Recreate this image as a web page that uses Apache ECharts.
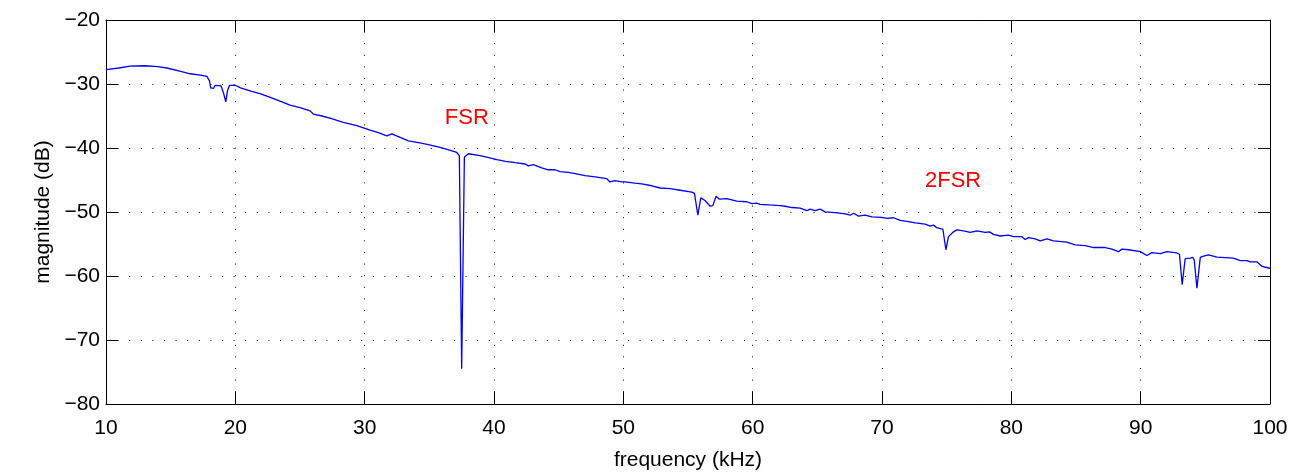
<!DOCTYPE html>
<html>
<head>
<meta charset="utf-8">
<script src="https://cdn.jsdelivr.net/npm/echarts@6/dist/echarts.min.js"></script>
<style>
html,body{margin:0;padding:0;background:#fff;}
#chart{width:1304px;height:476px;}
</style>
</head>
<body>
<div id="chart"></div>
<script>
// frequency (kHz)
const freq = [10.0,11.0,11.86,13.0,14.0,14.7,15.7,16.5,17.3,17.8,18.0,18.1,18.3,18.45,18.6,18.9,19.1,19.26,19.4,19.55,19.7,20.0,20.4,21.2,21.9,22.7,23.5,24.23,25.0,25.78,26.03,26.7,27.32,28.35,29.39,30.42,31.06,31.71,32.1,32.74,33.38,34.28,35.0,35.83,36.5,37.12,37.32,37.5,37.71,38.02,38.93,39.6,40.22,40.9,41.63,42.41,42.66,43.04,43.69,44.2,44.72,45.11,45.75,46.27,47.04,47.82,48.72,48.97,49.36,49.88,50.13,50.9,51.42,52.2,52.85,53.62,54.39,55.3,55.5,55.76,55.99,56.32,56.71,56.92,57.17,57.43,58.0,58.77,59.54,59.67,59.93,60.31,60.57,61.3,62.12,62.51,63.03,63.67,64.19,64.44,64.83,65.22,65.6,66.38,67.15,67.54,67.8,68.18,68.7,69.22,69.99,70.38,70.89,71.41,72.05,72.57,73.34,73.73,73.98,74.24,74.71,74.94,75.14,75.53,75.79,76.3,76.82,77.34,77.98,78.31,78.62,79.14,79.78,80.17,80.82,81.07,81.33,81.85,82.23,82.75,83.26,84.3,84.94,85.71,86.36,87.26,87.78,88.29,88.55,89.06,89.97,90.48,90.87,91.52,92.03,92.8,93.0,93.21,93.44,93.83,94.04,94.14,94.35,94.61,94.86,95.25,95.9,97.18,97.7,98.22,98.48,99.0,99.39,99.9,100.0];
// magnitude (dB)
const magnitude = [-27.75,-27.5,-27.2,-27.15,-27.3,-27.5,-28.0,-28.4,-28.6,-28.8,-29.5,-30.6,-30.7,-30.2,-29.97,-30.3,-31.5,-32.8,-31.0,-30.2,-30.0,-30.2,-30.6,-31.1,-31.5,-32.1,-32.7,-33.3,-33.7,-34.2,-34.7,-35.0,-35.35,-36.0,-36.5,-37.2,-37.6,-38.1,-37.8,-38.35,-38.9,-39.2,-39.5,-39.9,-40.3,-40.7,-41.2,-74.5,-41.4,-40.9,-41.2,-41.5,-41.8,-42.1,-42.3,-42.5,-42.8,-42.6,-43.1,-43.4,-43.4,-43.7,-43.8,-44.0,-44.3,-44.5,-44.8,-45.3,-45.1,-45.3,-45.3,-45.5,-45.6,-45.9,-46.25,-46.36,-46.6,-46.9,-47.1,-50.5,-47.8,-48.2,-49.1,-49.0,-47.55,-48.0,-47.9,-48.3,-48.4,-48.2,-48.7,-48.6,-48.8,-48.9,-49.0,-49.1,-49.3,-49.4,-49.8,-49.55,-49.8,-49.55,-49.97,-50.1,-50.3,-50.5,-50.2,-50.65,-50.5,-50.75,-50.85,-51.0,-50.9,-51.3,-51.5,-51.7,-51.9,-52.2,-52.05,-52.45,-52.7,-55.9,-53.85,-53.1,-52.8,-52.95,-53.2,-52.95,-53.2,-53.1,-53.5,-53.75,-53.6,-53.85,-53.85,-54.3,-54.0,-54.2,-54.5,-54.2,-54.5,-54.7,-55.15,-55.25,-55.55,-55.55,-55.8,-56.2,-55.8,-55.9,-56.2,-56.8,-56.35,-56.5,-56.2,-56.4,-56.6,-61.35,-57.3,-57.2,-57.1,-57.5,-61.9,-57.1,-56.9,-56.7,-57.05,-57.2,-57.6,-57.6,-57.8,-57.8,-58.5,-58.75,-58.8];
// annotations
const noteText = ['FSR', '2FSR'];
const noteFreq = [37.9, 75.5];
const noteMag = [-35.3, -45.2];
// axis ticks
const xTicks = [10,20,30,40,50,60,70,80,90,100];
const yTicks = [-80,-70,-60,-50,-40,-30,-20];

const FONT = '"Liberation Sans", Arial, sans-serif';
const chart = echarts.init(document.getElementById('chart'), null, {renderer: 'canvas'});

const gridLine = {show: true, lineStyle: {color: '#000', width: 1, type: [1, 10.6]}};
const fmtMinus = v => String(v).replace('-', '\u2212');

const option = {
  backgroundColor: '#fff',
  animation: false,
  grid: {left: 106, right: 34, top: 20, bottom: 69, containLabel: false},
  xAxis: [{
    type: 'value', min: xTicks[0], max: xTicks[xTicks.length-1], interval: 10,
    name: 'frequency (kHz)', nameLocation: 'middle', nameGap: 46,
    nameTextStyle: {fontFamily: FONT, fontSize: 21, color: '#000'},
    axisLine: {show: true, onZero: false, lineStyle: {color: '#000', width: 1}},
    axisTick: {show: true, inside: true, length: 12, lineStyle: {color: '#000'}},
    axisLabel: {fontFamily: FONT, fontSize: 21, color: '#000', margin: 14},
    splitLine: gridLine
  }, {
    type: 'value', position: 'top', min: xTicks[0], max: xTicks[xTicks.length-1], interval: 10,
    axisLine: {show: true, onZero: false, lineStyle: {color: '#000', width: 1}},
    axisTick: {show: true, inside: true, length: 12, lineStyle: {color: '#000'}},
    axisLabel: {show: false}, splitLine: {show: false}
  }],
  yAxis: [{
    type: 'value', min: yTicks[0], max: yTicks[yTicks.length-1], interval: 10,
    name: 'magnitude (dB)', nameLocation: 'middle', nameGap: 52, nameRotate: 90,
    nameTextStyle: {fontFamily: FONT, fontSize: 21, color: '#000'},
    axisLine: {show: true, onZero: false, lineStyle: {color: '#000', width: 1}},
    axisTick: {show: true, inside: true, length: 12, lineStyle: {color: '#000'}},
    axisLabel: {fontFamily: FONT, fontSize: 21, color: '#000', margin: 6, formatter: fmtMinus},
    splitLine: gridLine
  }, {
    type: 'value', position: 'right', min: yTicks[0], max: yTicks[yTicks.length-1], interval: 10,
    axisLine: {show: true, onZero: false, lineStyle: {color: '#000', width: 1}},
    axisTick: {show: true, inside: true, length: 12, lineStyle: {color: '#000'}},
    axisLabel: {show: false}, splitLine: {show: false}
  }],
  series: [{
    type: 'line',
    data: freq.map((f, i) => [f, magnitude[i]]),
    showSymbol: false, symbol: 'none',
    lineStyle: {color: '#0000ff', width: 1.3},
    clip: true
  }, {
    type: 'scatter',
    data: noteText.map((t, i) => ({value: [noteFreq[i], noteMag[i]], name: t})),
    symbolSize: 0,
    itemStyle: {opacity: 1},
    label: {show: true, position: 'inside', formatter: p => p.name,
      fontFamily: FONT, fontSize: 22, color: '#ff0000', opacity: 1}
  }]
};
chart.setOption(option);
</script>
</body>
</html>
